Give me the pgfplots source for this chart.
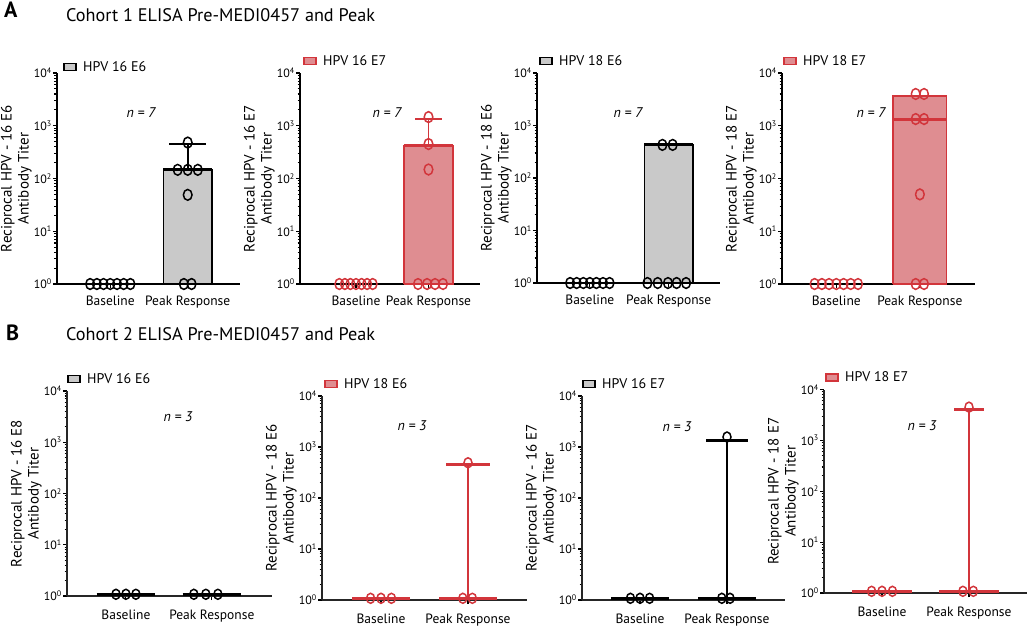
\documentclass[border=0pt]{standalone}
\usepackage{fontspec}
\setmainfont{PT Sans}
\usepackage{pgfplots}
\pgfplotsset{compat=1.18}

\definecolor{boxgray}{HTML}{C9C9C9}
\definecolor{redfill}{HTML}{DF8D91}
\definecolor{redline}{HTML}{D2353B}
\newcommand{\fs}[1]{\fontsize{#1}{#1}\selectfont}

% settings shared by all eight panels
\pgfplotsset{
  scale only axis, clip=false,
  ymin=1, ymax=10000,
  axis x line*=bottom, axis y line*=left,
  ytick={1,10,100,1000,10000},
  yticklabels={10\textsuperscript{0},10\textsuperscript{1},10\textsuperscript{2},10\textsuperscript{3},10\textsuperscript{4}},
  minor ytick={2,3,4,5,6,7,8,9,20,30,40,50,60,70,80,90,200,300,400,500,600,700,800,900,2000,3000,4000,5000,6000,7000,8000,9000},
  tick align=outside,
  major tick length=4pt, minor tick length=2.5pt,
  tick style={line width=1.1pt, black},
  xtick={0,1}, xticklabels={Baseline,Peak Response},
  xticklabel style={font=\fs{13.5}},
  yticklabel style={font=\fs{12}, inner sep=1pt},
  ylabel style={align=center, font=\fontsize{15}{17}\selectfont, inner sep=1pt},
  legend style={at={(axis description cs:0,1)}, anchor=west, yshift=12pt,
    draw=none, fill=none, inner sep=0pt, font=\fs{14}},
  legend cell align=left,
  hpvgray/.style={legend image code/.code={\draw[line width=1.5pt, draw=black, fill=boxgray] (0pt,-3.5pt) rectangle (12pt,3.5pt); \path (17pt,0pt);}},
  hpvred/.style={legend image code/.code={\draw[line width=1.5pt, draw=redline, fill=redfill] (0pt,-3.5pt) rectangle (12pt,3.5pt); \path (17pt,0pt);}},
  hpvpts/.style={only marks, mark=o, mark size=5.4pt, mark options={xscale=0.8, line width=1.5pt}},
}

\begin{document}
\begin{tikzpicture}
\useasboundingbox (0pt,0pt) rectangle (1031pt,-627pt);

% ---------------- Cohort 1 ----------------
\begin{semilogyaxis}[anchor=south west, at={(57pt,-284pt)}, width=183pt, height=211pt,
  axis line style={line width=1.8pt, black}, xticklabel style={yshift=-4pt},
  xmin=-0.688, xmax=1.675, legend style={yshift=-6pt, xshift=6pt},
  ylabel={Reciprocal HPV - 16 E6\\Antibody Titer}]
\addlegendimage{hpvgray}
\addlegendentry{HPV 16 E6}
\addplot[draw=black, fill=boxgray, line width=1.5pt] coordinates {(0.685,1)(0.685,146)(1.315,146)(1.315,1)(0.685,1)};
\addplot[black, line width=3pt] coordinates {(0.685,146)(1.315,146)};
\addplot[black, line width=1.8pt] coordinates {(1,146)(1,450)};
\addplot[black, line width=2.4pt] coordinates {(0.76,450)(1.24,450)};
\addplot[hpvpts, black] coordinates {(-0.26,1)(-0.173,1)(-0.087,1)(0,1)(0.087,1)(0.173,1)(0.26,1)};
\addplot[hpvpts, black] coordinates {(1,480)(0.87,146)(1.0,146)(1.13,146)(1,49)(0.95,1)(1.05,1)};
\end{semilogyaxis}

\begin{semilogyaxis}[anchor=south west, at={(300pt,-284pt)}, width=180pt, height=211pt,
  axis line style={line width=1.8pt, black}, xticklabel style={yshift=-4pt},
  xmin=-0.772, xmax=1.71, legend style={xshift=3pt},
  ylabel={Reciprocal HPV - 16 E7\\Antibody Titer}]
\addlegendimage{hpvred}
\addlegendentry{HPV 16 E7}
\addplot[draw=redline, fill=redfill, line width=1.5pt] coordinates {(0.66,1)(0.66,417)(1.34,417)(1.34,1)(0.66,1)};
\addplot[redline, line width=3pt] coordinates {(0.66,417)(1.34,417)};
\addplot[redline, line width=1.8pt] coordinates {(1,417)(1,1340)};
\addplot[redline, line width=2.4pt] coordinates {(0.82,1340)(1.18,1340)};
\addplot[hpvpts, redline] coordinates {(-0.23,1)(-0.153,1)(-0.077,1)(0,1)(0.077,1)(0.153,1)(0.23,1)};
\addplot[hpvpts, redline] coordinates {(1,1460)(1,450)(1,148)(0.855,1)(0.98,1)(1.09,1)(1.2,1)};
\end{semilogyaxis}

\begin{semilogyaxis}[anchor=south west, at={(537pt,-283pt)}, width=183pt, height=210pt,
  axis line style={line width=1.8pt, black}, xticklabel style={yshift=-4pt},
  xmin=-0.67, xmax=1.65, legend style={xshift=2pt},
  ylabel={Reciprocal HPV - 18 E6\\Antibody Titer}]
\addlegendimage{hpvgray}
\addlegendentry{HPV 18 E6}
\addplot[draw=black, fill=boxgray, line width=1.5pt] coordinates {(0.69,1)(0.69,427)(1.31,427)(1.31,1)(0.69,1)};
\addplot[black, line width=3pt] coordinates {(0.69,427)(1.31,427)};
\addplot[hpvpts, black] coordinates {(-0.25,1)(-0.167,1)(-0.083,1)(0,1)(0.083,1)(0.167,1)(0.25,1)};
\addplot[hpvpts, black] coordinates {(0.92,427)(1.05,427)(0.73,1)(0.86,1)(0.99,1)(1.1,1)(1.22,1)};
\end{semilogyaxis}

\begin{semilogyaxis}[anchor=south west, at={(782pt,-284pt)}, width=193pt, height=211pt,
  axis line style={line width=1.8pt, black}, xticklabel style={yshift=-4pt},
  xmin=-0.65, xmax=1.66, legend style={xshift=1pt},
  ylabel={Reciprocal HPV - 18 E7\\Antibody Titer}]
\addlegendimage{hpvred}
\addlegendentry{HPV 18 E7}
\addplot[draw=redline, fill=redfill, line width=1.5pt] coordinates {(0.68,1)(0.68,3700)(1.32,3700)(1.32,1)(0.68,1)};
\addplot[redline, line width=3pt] coordinates {(0.68,1340)(1.32,1340)};
\addplot[hpvpts, redline] coordinates {(-0.26,1)(-0.173,1)(-0.087,1)(0,1)(0.087,1)(0.173,1)(0.26,1)};
\addplot[hpvpts, redline] coordinates {(0.95,4000)(1.05,4000)(0.95,1340)(1.05,1340)(1,50)(0.95,1)(1.05,1)};
\end{semilogyaxis}

% ---------------- Cohort 2 ----------------
\begin{semilogyaxis}[anchor=south west, at={(67pt,-596pt)}, width=205pt, height=205pt,
  xmin=-0.686, xmax=1.70, xticklabel style={yshift=-6pt},
  axis line style={line width=1.4pt, black!85},
  ylabel={Reciprocal HPV - 16 E8\\Antibody Titer}]
\addlegendimage{hpvgray}
\addlegendentry{HPV 16 E6}
\addplot[black, line width=3pt] coordinates {(-0.34,1.08)(0.34,1.08)};
\addplot[black, line width=3pt] coordinates {(0.66,1.08)(1.34,1.08)};
\addplot[hpvpts, black, mark size=5pt] coordinates {(-0.116,1.08)(0,1.08)(0.116,1.08)};
\addplot[hpvpts, black, mark size=5pt] coordinates {(0.79,1.08)(0.93,1.08)(1.07,1.08)};
\end{semilogyaxis}

\begin{semilogyaxis}[anchor=south west, at={(322pt,-600pt)}, width=205pt, height=204pt,
  xmin=-0.678, xmax=1.678, xticklabel style={yshift=-6pt}, legend style={xshift=2pt},
  axis line style={line width=1.4pt, black!85},
  ylabel={Reciprocal HPV - 18 E6\\Antibody Titer}]
\addlegendimage{hpvred}
\addlegendentry{HPV 18 E6}
\addplot[redline, line width=3pt] coordinates {(-0.33,1.08)(0.33,1.08)};
\addplot[redline, line width=3pt] coordinates {(0.67,1.08)(1.33,1.08)};
\addplot[redline, line width=2.2pt] coordinates {(1,1.08)(1,450)};
\addplot[redline, line width=3pt] coordinates {(0.75,450)(1.25,450)};
\addplot[hpvpts, redline, mark size=5pt] coordinates {(-0.12,1.08)(0,1.08)(0.12,1.08)};
\addplot[hpvpts, redline, mark size=5pt] coordinates {(0.94,1.08)(1.05,1.08)(1,490)};
\end{semilogyaxis}

\begin{semilogyaxis}[anchor=south west, at={(582pt,-600pt)}, width=203pt, height=204pt,
  xmin=-0.667, xmax=1.667, xticklabel style={yshift=-6pt},
  axis line style={line width=1.4pt, black!85},
  ylabel={Reciprocal HPV - 16 E7\\Antibody Titer}]
\addlegendimage{hpvgray}
\addlegendentry{HPV 16 E7}
\addplot[black, line width=3pt] coordinates {(-0.33,1.08)(0.33,1.08)};
\addplot[black, line width=3pt] coordinates {(0.67,1.08)(1.33,1.08)};
\addplot[black, line width=2.2pt] coordinates {(1,1.08)(1,1350)};
\addplot[black, line width=3pt] coordinates {(0.76,1350)(1.24,1350)};
\addplot[hpvpts, black, mark size=5pt] coordinates {(-0.11,1.08)(0,1.08)(0.11,1.08)};
\addplot[hpvpts, black, mark size=5pt] coordinates {(0.94,1.08)(1.035,1.08)(1,1570)};
\end{semilogyaxis}

\begin{semilogyaxis}[anchor=south west, at={(824pt,-593pt)}, width=203pt, height=203.5pt,
  xmin=-0.667, xmax=1.667, xticklabel style={yshift=-6pt}, legend style={xshift=1pt},
  axis line style={line width=1.4pt, black!85},
  ylabel={Reciprocal HPV - 18 E7\\Antibody Titer}]
\addlegendimage{hpvred}
\addlegendentry{HPV 18 E7}
\addplot[redline, line width=3pt] coordinates {(-0.34,1.08)(0.34,1.08)};
\addplot[redline, line width=3pt] coordinates {(0.66,1.08)(1.34,1.08)};
\addplot[redline, line width=2.2pt] coordinates {(1,1.08)(1,4100)};
\addplot[redline, line width=3pt] coordinates {(0.83,4100)(1.17,4100)};
\addplot[hpvpts, redline, mark size=5pt] coordinates {(-0.12,1.08)(0,1.08)(0.12,1.08)};
\addplot[hpvpts, redline, mark size=5pt] coordinates {(0.93,1.08)(1.05,1.08)(1,4500)};
\end{semilogyaxis}

% ---------------- panel letters, titles, n ----------------
\node[anchor=north west, inner sep=0pt, font=\bfseries\fs{22}] at (4pt,-2pt) {A};
\node[anchor=west, inner sep=0pt, font=\fs{18.2}] at (66pt,-15pt) {Cohort 1 ELISA Pre-MEDI0457 and Peak};
\node[anchor=north west, inner sep=0pt, font=\bfseries\fs{22}] at (6pt,-325pt) {B};
\node[anchor=west, inner sep=0pt, font=\fs{18.2}] at (66pt,-334pt) {Cohort 2 ELISA Pre-MEDI0457 and Peak};

\node[font=\itshape\fs{14}] at (141pt,-113pt) {n = 7};
\node[font=\itshape\fs{14}] at (387pt,-113pt) {n = 7};
\node[font=\itshape\fs{14}] at (628pt,-113pt) {n = 7};
\node[font=\itshape\fs{14}] at (871pt,-113pt) {n = 7};
\node[font=\itshape\fs{14}] at (178pt,-417pt) {n = 3};
\node[font=\itshape\fs{14}] at (412pt,-426pt) {n = 3};
\node[font=\itshape\fs{14}] at (677pt,-427pt) {n = 3};
\node[font=\itshape\fs{14}] at (922pt,-426pt) {n = 3};
\end{tikzpicture}
\end{document}
